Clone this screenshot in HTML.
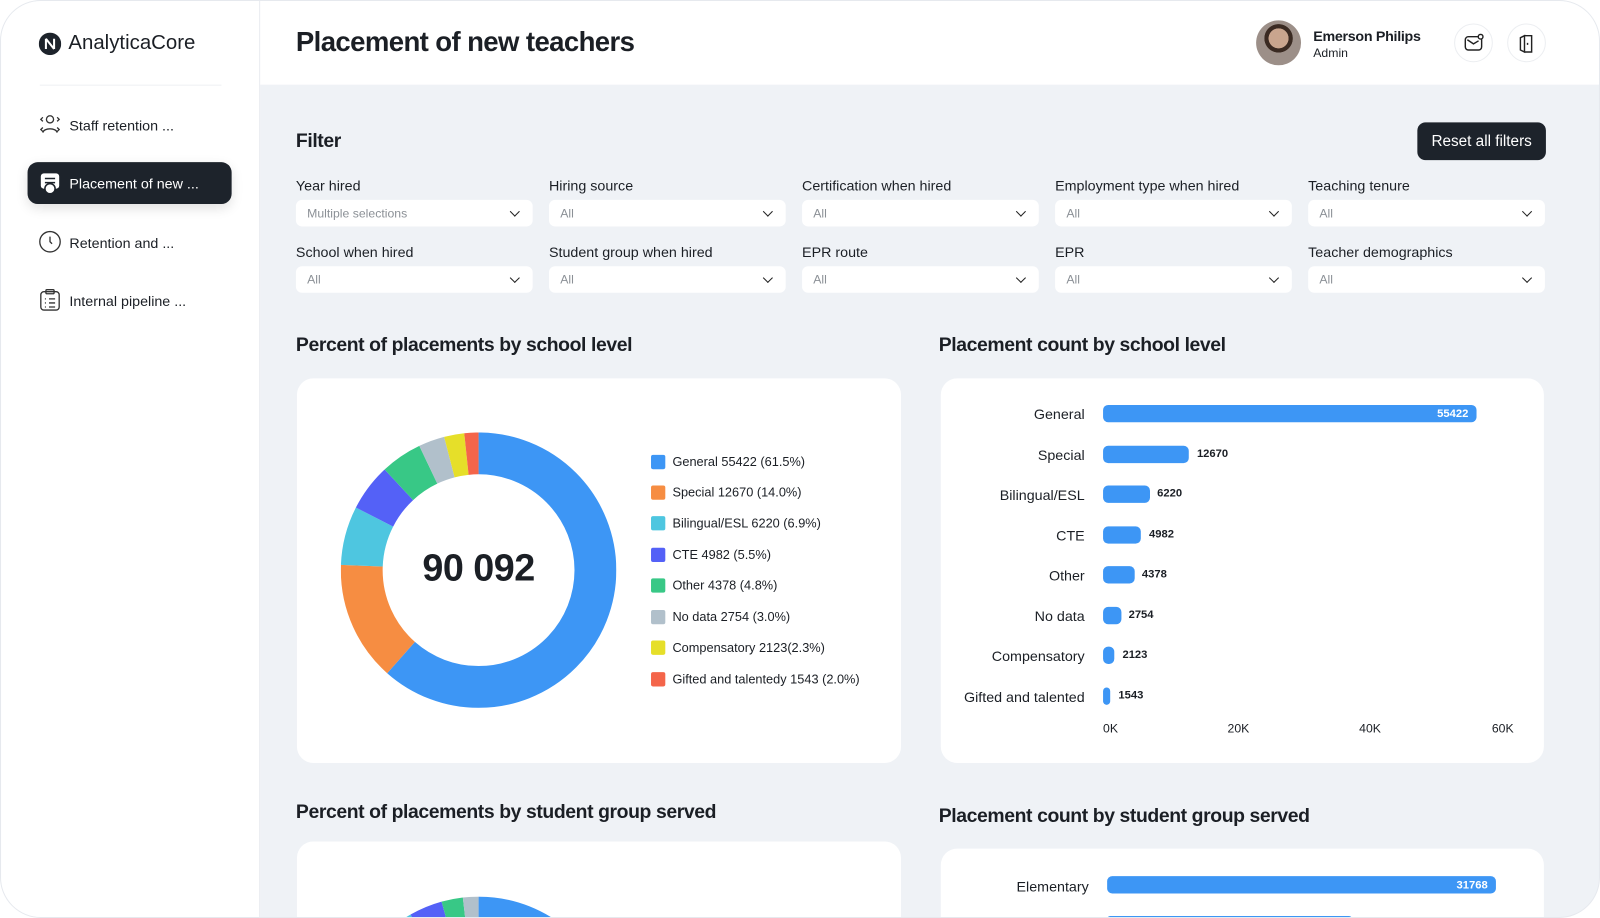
<!DOCTYPE html>
<html><head><meta charset="utf-8"><style>
*{box-sizing:border-box;margin:0;padding:0}
html,body{width:1600px;height:918px;overflow:hidden;background:#fff;font-family:"Liberation Sans",sans-serif;color:#1b1f25}
#s{position:absolute;left:0;top:0;width:1568px;height:900px;transform:scale(1.020408,1.02);transform-origin:0 0}
#pg{position:absolute;left:0;top:0;width:1568px;height:900px;border-radius:40px;overflow:hidden;background:#eff2f6;border:1px solid #e6e9ee}
.a{position:absolute;white-space:nowrap}
.side{position:absolute;left:0;top:0;width:254px;height:900px;background:#fff;border-right:1px solid #e8ebef}
.hdr{position:absolute;left:254px;top:0;width:1314px;height:82px;background:#fff}
.nav{position:absolute;left:67px;font-size:14px;line-height:16px;white-space:nowrap}
.lbl{position:absolute;font-size:14px;line-height:16px;white-space:nowrap}
.sel{position:absolute;width:232px;height:26px;background:#fff;border-radius:6px;font-size:12px;color:#8b9096;padding:6px 11px;line-height:14px;white-space:nowrap}
.sel:after{content:"";position:absolute;right:14px;top:8px;width:6px;height:6px;border-right:1.6px solid #222;border-bottom:1.6px solid #222;transform:rotate(45deg)}
.h2{position:absolute;font-size:19px;font-weight:bold;letter-spacing:-0.4px;white-space:nowrap}
.card{position:absolute;background:#fff;border-radius:16px}
.lg{position:absolute;left:637px;font-size:12.5px;line-height:14px;white-space:nowrap}
.lg i{position:absolute;left:0;top:0;width:14px;height:14px;border-radius:2px}
.lg span{position:absolute;left:21px;top:0;white-space:nowrap}
.bl{position:absolute;font-size:14px;text-align:right;width:200px;line-height:16px;white-space:nowrap}
.bar{position:absolute;height:17px;background:#3d96f5;border-radius:5px}
.bv{position:absolute;font-size:11px;font-weight:bold;line-height:13px;white-space:nowrap}
.ax{position:absolute;font-size:12px;top:706px}
</style></head><body><div id="s"><div id="pg">
<div class="side">
 <svg class="a" style="left:37px;top:31px" width="22" height="22"><circle cx="11" cy="11" r="11" fill="#1d232b"/><path d="M7 6v10M15 6v10M7 6l8 10" stroke="#fff" stroke-width="2"/></svg>
 <div class="a" style="left:66px;top:30px;font-size:20px">AnalyticaCore</div>
 <div class="a" style="left:38px;top:82px;width:178px;height:1px;background:#eef0f3"></div>
 <svg class="a" style="left:37px;top:110px" width="22" height="22" fill="none" stroke="#333" stroke-width="1.3"><circle cx="11" cy="6" r="3.5"/><path d="M4 19c1-5 13-5 14 0"/><path d="M4 4l-2 2 2 2M18 4l2 2-2 2M4 14l-2 2 2 2M18 14l2 2-2 2"/></svg>
 <div class="nav" style="top:114px">Staff retention ...</div>
 <div class="a" style="left:26px;top:158px;width:200px;height:41px;background:#1d232b;border-radius:10px;box-shadow:0 4px 12px rgba(0,0,0,.12)"></div>
 <svg class="a" style="left:38px;top:168px" width="20" height="22"><rect x="1" y="1" width="18" height="15" rx="3" fill="#fff"/><path d="M5 6h10M5 10h10" stroke="#1d232b" stroke-width="1.5"/><circle cx="10" cy="16" r="5" fill="#fff" stroke="#1d232b" stroke-width="1.5"/></svg>
 <div class="nav" style="top:171px;color:#fff">Placement of new ...</div>
 <svg class="a" style="left:37px;top:225px" width="22" height="22" fill="none" stroke="#333" stroke-width="1.3"><circle cx="11" cy="11" r="10"/><path d="M11 6v5l2 2"/></svg>
 <div class="nav" style="top:229px">Retention and ...</div>
 <svg class="a" style="left:38px;top:282px" width="20" height="22" fill="none" stroke="#333" stroke-width="1.3"><rect x="1" y="3" width="18" height="18" rx="3"/><rect x="6" y="1" width="8" height="4" rx="1"/><path d="M5 10h1M9 10h6M5 14h1M9 14h6M5 18h1M9 18h6"/></svg>
 <div class="nav" style="top:286px">Internal pipeline ...</div>
</div>
<div class="hdr"></div>
<div class="a" style="left:289px;top:25px;font-size:27px;font-weight:bold;letter-spacing:-0.6px">Placement of new teachers</div>
<div class="a" style="left:1230px;top:19px;width:44px;height:44px;border-radius:50%;background:radial-gradient(circle at 50% 40%,#c9a58e 0 28%,#3a2a22 29% 40%,#9c8f88 41%)"></div>
<div class="a" style="left:1286px;top:26px;font-size:14px;font-weight:bold;letter-spacing:-0.3px">Emerson Philips</div>
<div class="a" style="left:1286px;top:44px;font-size:12px">Admin</div>
<div class="a" style="left:1424px;top:22px;width:38px;height:38px;border-radius:50%;border:1px solid #eceef1"></div>
<svg class="a" style="left:1434px;top:32px" width="20" height="18" fill="none" stroke="#222" stroke-width="1.4"><rect x="1" y="3" width="16" height="13" rx="3"/><path d="M3 6l6 4 5-3"/><circle cx="16" cy="3" r="2.3" fill="#fff"/></svg>
<div class="a" style="left:1476px;top:22px;width:38px;height:38px;border-radius:50%;border:1px solid #eceef1"></div>
<svg class="a" style="left:1486px;top:32px" width="18" height="20" fill="none" stroke="#222" stroke-width="1.4"><path d="M7 2h7v16H7M7 2L3 4v12l4 2z"/><path d="M10 9v2"/></svg>

<div class="h2" style="left:289px;top:127px">Filter</div>
<div class="a" style="left:1388px;top:119px;width:126px;height:37px;background:#1d232b;border-radius:8px;color:#fff;font-size:15px;text-align:center;line-height:37px">Reset all filters</div>

<div class="lbl" style="left:289px;top:173px">Year hired</div><div class="sel" style="left:289px;top:195px">Multiple selections</div>
<div class="lbl" style="left:537px;top:173px">Hiring source</div><div class="sel" style="left:537px;top:195px">All</div>
<div class="lbl" style="left:785px;top:173px">Certification when hired</div><div class="sel" style="left:785px;top:195px">All</div>
<div class="lbl" style="left:1033px;top:173px">Employment type when hired</div><div class="sel" style="left:1033px;top:195px">All</div>
<div class="lbl" style="left:1281px;top:173px">Teaching tenure</div><div class="sel" style="left:1281px;top:195px">All</div>
<div class="lbl" style="left:289px;top:238px">School when hired</div><div class="sel" style="left:289px;top:260px">All</div>
<div class="lbl" style="left:537px;top:238px">Student group when hired</div><div class="sel" style="left:537px;top:260px">All</div>
<div class="lbl" style="left:785px;top:238px">EPR route</div><div class="sel" style="left:785px;top:260px">All</div>
<div class="lbl" style="left:1033px;top:238px">EPR</div><div class="sel" style="left:1033px;top:260px">All</div>
<div class="lbl" style="left:1281px;top:238px">Teacher demographics</div><div class="sel" style="left:1281px;top:260px">All</div>

<div class="h2" style="left:289px;top:327px">Percent of placements by school level</div>
<div class="h2" style="left:919px;top:327px">Placement count by school level</div>
<div class="card" style="left:290px;top:370px;width:592px;height:377px"></div>
<div class="card" style="left:921px;top:370px;width:591px;height:377px"></div>

<svg class="a" style="left:333px;top:423px" width="270" height="270">
<g transform="rotate(-90 135 135)" fill="none" stroke-width="41">
<circle cx="135" cy="135" r="114.5" stroke="#3d96f5" stroke-dasharray="442.6 800" stroke-dashoffset="0"/>
<circle cx="135" cy="135" r="114.5" stroke="#f68d42" stroke-dasharray="101.2 800" stroke-dashoffset="-442.6"/>
<circle cx="135" cy="135" r="114.5" stroke="#4ec6e0" stroke-dasharray="49.6 800" stroke-dashoffset="-543.8"/>
<circle cx="135" cy="135" r="114.5" stroke="#5461f7" stroke-dasharray="39.8 800" stroke-dashoffset="-593.4"/>
<circle cx="135" cy="135" r="114.5" stroke="#38c886" stroke-dasharray="35 800" stroke-dashoffset="-633.2"/>
<circle cx="135" cy="135" r="114.5" stroke="#b1c0cb" stroke-dasharray="22 800" stroke-dashoffset="-668.2"/>
<circle cx="135" cy="135" r="114.5" stroke="#e6df29" stroke-dasharray="17 800" stroke-dashoffset="-690.2"/>
<circle cx="135" cy="135" r="114.5" stroke="#f4654a" stroke-dasharray="12.3 800" stroke-dashoffset="-707.2"/>
</g></svg>
<div class="a" style="left:368px;top:535px;width:200px;text-align:center;font-size:37px;font-weight:bold;letter-spacing:-0.5px">90 092</div>

<div class="lg" style="top:445px"><i style="background:#3d96f5"></i><span>General 55422 (61.5%)</span></div>
<div class="lg" style="top:475px"><i style="background:#f68d42"></i><span>Special 12670 (14.0%)</span></div>
<div class="lg" style="top:505px"><i style="background:#4ec6e0"></i><span>Bilingual/ESL 6220 (6.9%)</span></div>
<div class="lg" style="top:536px"><i style="background:#5461f7"></i><span>CTE 4982 (5.5%)</span></div>
<div class="lg" style="top:566px"><i style="background:#38c886"></i><span>Other 4378 (4.8%)</span></div>
<div class="lg" style="top:597px"><i style="background:#b1c0cb"></i><span>No data 2754 (3.0%)</span></div>
<div class="lg" style="top:627px"><i style="background:#e6df29"></i><span>Compensatory 2123(2.3%)</span></div>
<div class="lg" style="top:658px"><i style="background:#f4654a"></i><span>Gifted and talentedy 1543 (2.0%)</span></div>

<div class="bl" style="left:862px;top:397px">General</div><div class="bar" style="left:1080px;top:396px;width:366px"></div><div class="bv" style="left:1380px;top:399px;width:58px;text-align:right;color:#fff">55422</div>
<div class="bl" style="left:862px;top:437px">Special</div><div class="bar" style="left:1080px;top:436px;width:84px"></div><div class="bv" style="left:1172px;top:438px">12670</div>
<div class="bl" style="left:862px;top:476px">Bilingual/ESL</div><div class="bar" style="left:1080px;top:475px;width:46px"></div><div class="bv" style="left:1133px;top:477px">6220</div>
<div class="bl" style="left:862px;top:516px">CTE</div><div class="bar" style="left:1080px;top:515px;width:37px"></div><div class="bv" style="left:1125px;top:517px">4982</div>
<div class="bl" style="left:862px;top:555px">Other</div><div class="bar" style="left:1080px;top:554px;width:31px"></div><div class="bv" style="left:1118px;top:556px">4378</div>
<div class="bl" style="left:862px;top:595px">No data</div><div class="bar" style="left:1080px;top:594px;width:18px"></div><div class="bv" style="left:1105px;top:596px">2754</div>
<div class="bl" style="left:862px;top:634px">Compensatory</div><div class="bar" style="left:1080px;top:633px;width:11px"></div><div class="bv" style="left:1099px;top:635px">2123</div>
<div class="bl" style="left:862px;top:674px">Gifted and talented</div><div class="bar" style="left:1080px;top:673px;width:7px;border-radius:4px"></div><div class="bv" style="left:1095px;top:675px">1543</div>
<div class="ax" style="left:1080px">0K</div><div class="ax" style="left:1202px">20K</div><div class="ax" style="left:1331px">40K</div><div class="ax" style="left:1461px">60K</div>

<div class="h2" style="left:289px;top:785px">Percent of placements by student group served</div>
<div class="h2" style="left:919px;top:789px">Placement count by student group served</div>
<div class="card" style="left:290px;top:824px;width:592px;height:76px;overflow:hidden;border-radius:16px 16px 0 0">
<svg class="a" style="left:43px;top:54px" width="270" height="22">
<g transform="rotate(-90 135 135)" fill="none" stroke-width="41">
<circle cx="135" cy="135" r="114.5" stroke="#3d96f5" stroke-dasharray="560 800"/>
<circle cx="135" cy="135" r="114.5" stroke="#f68d42" stroke-dasharray="80 800" stroke-dashoffset="-560"/>
<circle cx="135" cy="135" r="114.5" stroke="#4ec6e0" stroke-dasharray="20 800" stroke-dashoffset="-640"/>
<circle cx="135" cy="135" r="114.5" stroke="#5461f7" stroke-dasharray="28 800" stroke-dashoffset="-660"/>
<circle cx="135" cy="135" r="114.5" stroke="#38c886" stroke-dasharray="18 800" stroke-dashoffset="-688"/>
<circle cx="135" cy="135" r="114.5" stroke="#b1c0cb" stroke-dasharray="14 800" stroke-dashoffset="-706"/>
</g></svg></div>
<div class="card" style="left:921px;top:831px;width:591px;height:69px;overflow:hidden;border-radius:16px 16px 0 0">
<div class="bl" style="left:-55px;top:29px">Elementary</div>
<div class="bar" style="left:163px;top:27px;width:381px"></div><div class="bv" style="left:470px;top:30px;width:66px;text-align:right;color:#fff">31768</div>
<div class="bar" style="left:163px;top:66px;width:240px;height:3px;border-radius:3px 3px 0 0"></div>
</div>
</div></div></body></html>
